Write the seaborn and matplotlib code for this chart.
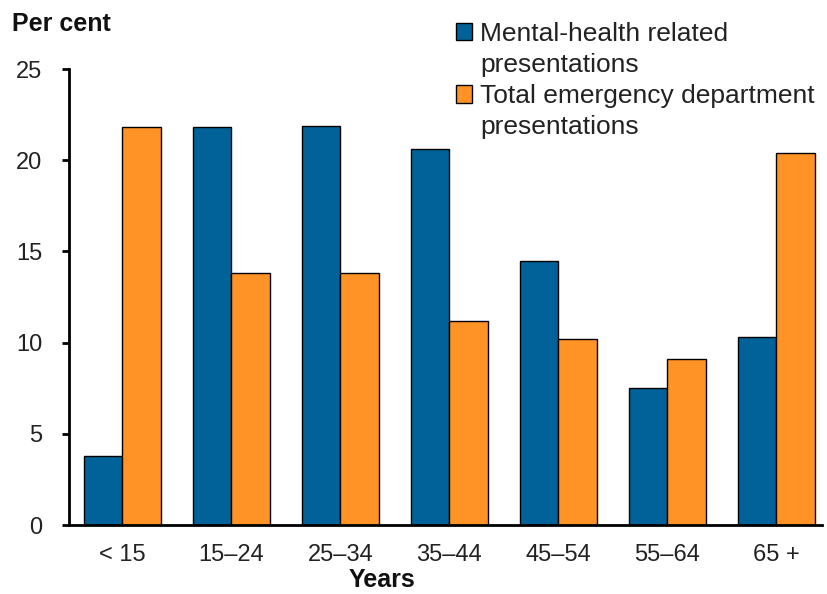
import matplotlib
matplotlib.use("Agg")
import matplotlib.pyplot as plt
import seaborn as sns
import pandas as pd
from matplotlib.patches import Patch

categories = ["< 15", "15–24", "25–34", "35–44", "45–54", "55–64", "65 +"]
mental_health = [3.8, 21.8, 21.9, 20.6, 14.5, 7.5, 10.3]
total_ed = [21.8, 13.8, 13.8, 11.2, 10.2, 9.1, 20.4]
series_names = ["Mental-health related\npresentations",
                "Total emergency department\npresentations"]
yticks = [0, 5, 10, 15, 20, 25]
colors = ["#006298", "#FF9326"]

df = pd.DataFrame({
    "Age": categories * 2,
    "Value": mental_health + total_ed,
    "Series": [series_names[0]] * len(categories) + [series_names[1]] * len(categories),
})

sns.set_theme(style="white")
plt.rcParams["font.family"] = ["Liberation Sans", "DejaVu Sans"]

fig = plt.figure(figsize=(8.27, 5.94), dpi=100)
ax = fig.add_axes([69/827, 1-525/594, (822-69)/827, (525-69)/594])

sns.barplot(data=df, x="Age", y="Value", hue="Series", order=categories,
            hue_order=series_names, palette=colors,
            width=0.71, edgecolor="black", linewidth=1, saturation=1, ax=ax,
            legend=False)

ax.set_xlim(-0.49, 6.42)
ax.set_ylim(0, 25)
ax.set_yticks(yticks)
ax.set_xlabel("")
ax.set_ylabel("")
for s in ["top", "right"]:
    ax.spines[s].set_visible(False)
for s in ["left", "bottom"]:
    ax.spines[s].set_color("black")
    ax.spines[s].set_linewidth(2)
ax.tick_params(axis="y", length=5, width=2, color="black", pad=14,
               labelsize=17, left=True, direction="out")
ax.tick_params(axis="x", length=0, pad=14, labelsize=17)
for t in ax.get_xticklabels() + ax.get_yticklabels():
    t.set_color("#222222")

fig.text(12/827, 1-24/594, "Per cent", fontsize=18, fontweight="bold",
         ha="left", va="center", color="#111111")
fig.text(382/827, 1-580/594, "Years", fontsize=18, fontweight="bold",
         ha="center", va="center", color="#111111")

# legend: first line of each label carries the swatch
handles, labels = [], []
for name, col in zip(series_names, colors):
    lines = name.split("\n")
    handles.append(Patch(facecolor=col, edgecolor="black", linewidth=1))
    labels.append(lines[0])
    for extra in lines[1:]:
        handles.append(Patch(facecolor="none", edgecolor="none"))
        labels.append(extra)
leg = fig.legend(handles, labels, loc="upper left",
                 bbox_to_anchor=(456/827, 1-22/594), frameon=False, fontsize=19,
                 handlelength=0.62, handleheight=0.62, handletextpad=0.3,
                 labelspacing=0.27, borderpad=0, borderaxespad=0)
for t in leg.get_texts():
    t.set_color("#222222")

fig.savefig("out.png", dpi=100)
